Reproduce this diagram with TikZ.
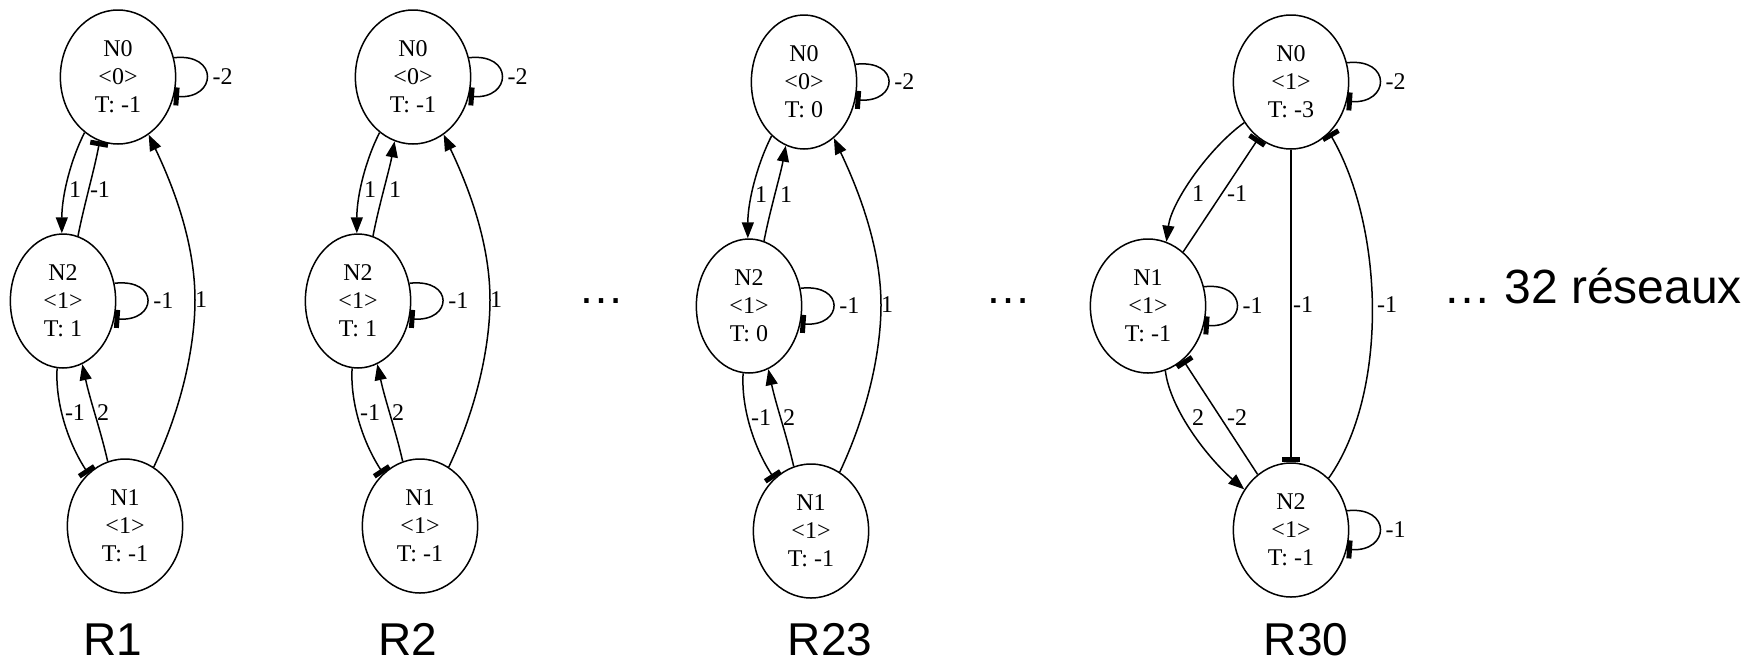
\documentclass[tikz,border=0pt]{standalone}
\usepackage{fontspec}
\setmainfont{Liberation Serif}
\newfontfamily\lsans{Liberation Sans}
\usetikzlibrary{arrows.meta,shapes.geometric}
\tikzset{
  st/.style={ellipse, draw, line width=1.5pt, minimum height=134pt, inner xsep=17.7pt, inner ysep=0pt, align=center, font=\fontsize{24}{28}\selectfont},
  ed/.style={line width=1.5pt},
  arr/.style={ed, -{Triangle[length=16pt,width=12pt]}},
  tee/.style={ed, -{Rectangle[length=5pt,width=18pt]}},
  lbl/.style={inner sep=0pt, font=\fontsize{24}{28}\selectfont},
  llbl/.style={lbl, anchor=west, inner sep=5pt},
  big/.style={font=\lsans\fontsize{46}{54}\selectfont, inner sep=0pt, anchor=base},
  selfloop/.style={tee},
}
\newcommand\chaingraph[6]{%
\begin{scope}[shift={#2}]
 \node[st] (#1a) at (118,77) {N0\\<0>\\T: #3};
 \node[st] (#1c) at (63,301) {N2\\<1>\\T: #4};
 \node[st] (#1b) at (125,526) {N1\\<1>\\T: -1};
 \draw[arr] (#1a.239) .. controls +(-13,25) and +(0,-39) .. (#1c.91);
 \draw[#5] (#1c.77) .. controls +(6,-31) and +(-5,28) .. (#1a.254.5);
 \draw[arr] (#1b.105.5) .. controls +(-7,-31) and +(8,37) .. (#1c.287);
 \draw[tee] (#1c.265.7) .. controls +(-2,33) and +(-21,-32) .. (#1b.125.8);
 \draw[arr] (#1b.64) .. controls +(31,-66) and +(0,40) .. (195,300) .. controls +(0,-50) and +(30,63) .. (#1a.298);
 \draw[selfloop] (#1a.19) .. controls +(45,-5) and +(43,3) .. (#1a.-19) node[llbl, pos=.5] (#1la) {-2};
 \draw[selfloop] (#1c.19) .. controls +(45,-5) and +(43,3) .. (#1c.-19) node[llbl, pos=.5] (#1lc) {-1};
 \node[lbl] (#1l1) at (75,190) {1};
 \node[lbl] (#1l2) at (100,190) {#6};
 \node[lbl] (#1l3) at (75,413) {-1};
 \node[lbl] (#1l4) at (103,413) {2};
 \node[lbl] (#1l5) at (201,300) {1};
\end{scope}}
\begin{document}
\begin{tikzpicture}[x=1pt,y=-1pt]
\fill[white] (0,0) rectangle (1753,662);
\useasboundingbox (0,0) rectangle (1753,662);
\chaingraph{R1}{(0,0)}{-1}{1}{tee}{-1}
\chaingraph{R2}{(295,0)}{-1}{1}{arr}{1}
\chaingraph{R23}{(686,5)}{0}{0}{arr}{1}
% R30
\node[st] (R30a) at (1291,82) {N0\\<1>\\T: -3};
\node[st] (R30b) at (1148,306) {N1\\<1>\\T: -1};
\node[st] (R30c) at (1291,530) {N2\\<1>\\T: -1};
\draw[arr] (R30a.221) .. controls +(-35,25) and +(5,-40) .. (R30b.74.5);
\draw[tee] (R30b.57) -- (R30a.240);
\draw[tee] (R30a.south) -- (R30c.north);
\draw[tee] (R30c.54) .. controls +(60,-85) and +(55,95) .. (R30a.307);
\draw[arr] (R30b.285) .. controls +(5,40) and +(-35,-30) .. (R30c.139);
\draw[tee] (R30c.121) -- (R30b.303);
\draw[selfloop] (R30a.19) .. controls +(45,-5) and +(43,3) .. (R30a.-19) node[llbl, pos=.5] (R30la) {-2};
\draw[selfloop] (R30b.19) .. controls +(45,-5) and +(43,3) .. (R30b.-19) node[llbl, pos=.5] (R30lb) {-1};
\draw[selfloop] (R30c.19) .. controls +(45,-5) and +(43,3) .. (R30c.-19) node[llbl, pos=.5] (R30lc) {-1};
\node[lbl] (R30l1) at (1198,194) {1};
\node[lbl] (R30l2) at (1237,194) {-1};
\node[lbl] (R30l3) at (1303,305) {-1};
\node[lbl] (R30l4) at (1387,305) {-1};
\node[lbl] (R30l5) at (1198,418) {2};
\node[lbl] (R30l6) at (1237,418) {-2};
% captions
\node[big] (t1) at (113,655) {R1};
\node[big] (t2) at (408,655) {R2};
\node[big] (t3) at (830,655) {R23};
\node[big] (t4) at (1306,655) {R30};
\node[big] (d1) at (601,303) {…};
\node[big] (d2) at (1008,303) {…};
\node[big, anchor=base west, font=\lsans\fontsize{48}{56}\selectfont] (t5) at (1443,303) {… 32 réseaux};
\end{tikzpicture}
\end{document}
